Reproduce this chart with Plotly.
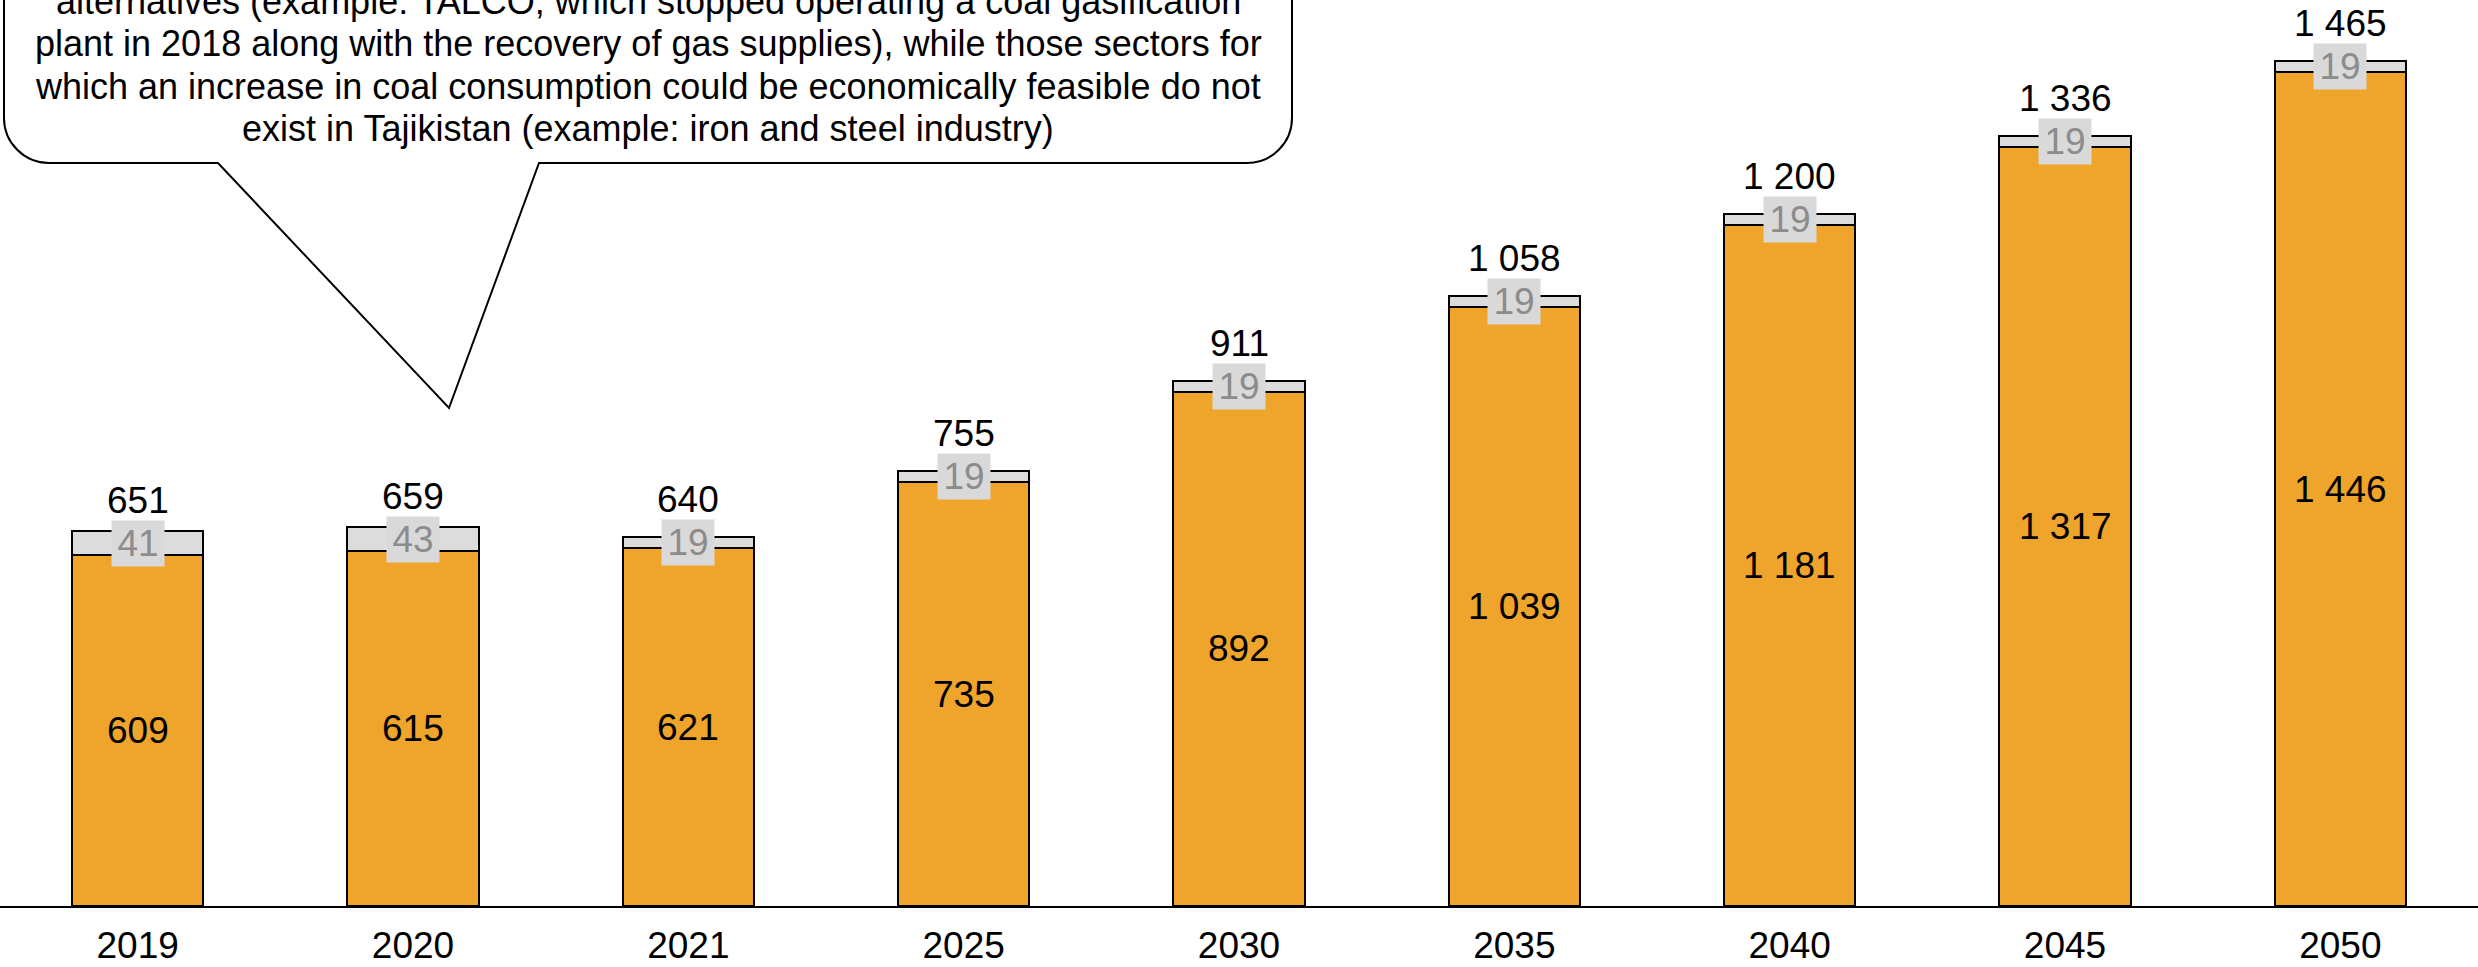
import plotly.graph_objects as go

# Coal consumption projection (thousand tonnes)
years = ["2019", "2020", "2021", "2025", "2030", "2035", "2040", "2045", "2050"]
base_use = [609, 615, 621, 735, 892, 1039, 1181, 1317, 1446]
other_use = [41, 43, 19, 19, 19, 19, 19, 19, 19]
totals = [651, 659, 640, 755, 911, 1058, 1200, 1336, 1465]

callout_lines = [
    "alternatives (example: TALCO, which stopped operating a coal gasification",
    "plant in 2018 along with the recovery of gas supplies), while those sectors for",
    "which an increase in coal consumption could be economically feasible do not",
    "exist in Tajikistan (example: iron and steel industry)",
]

W, H = 2478, 967
MARGIN_B = 61
PLOT_H = H - MARGIN_B
Y_MAX = 1571.6

FONT = "Liberation Sans, Arial, sans-serif"
NUM_SIZE = 37
ORANGE = "#EFA42B"
LIGHT = "#DCDCDC"


def fmt(v):
    return f"{v:,}".replace(",", " ")


fig = go.Figure()
fig.add_bar(
    x=years, y=base_use, name="base",
    marker=dict(color=ORANGE, line=dict(color="black", width=2)),
    hoverinfo="skip",
)
fig.add_bar(
    x=years, y=other_use, name="other",
    marker=dict(color=LIGHT, line=dict(color="black", width=2)),
    hoverinfo="skip",
)

annotations = []
# on a category axis annotations are placed by category index
for i, (b, o, t) in enumerate(zip(base_use, other_use, totals)):
    # value inside the orange segment
    annotations.append(dict(
        xref="x", yref="y", x=i, y=b / 2, text=fmt(b), showarrow=False,
        xanchor="center", yanchor="middle",
        font=dict(family=FONT, size=NUM_SIZE, color="black"),
    ))
    # boxed label on the thin top segment
    annotations.append(dict(
        xref="x", yref="y", x=i, y=b + o / 2, text=fmt(o), showarrow=False,
        xanchor="center", yanchor="middle",
        width=52, height=45, borderpad=0,
        bgcolor="#D9D9D9",
        font=dict(family=FONT, size=NUM_SIZE, color="#8C8C8C"),
    ))
    # total above the stack
    annotations.append(dict(
        xref="x", yref="y", x=i, y=b + o / 2, yshift=43, text=fmt(t),
        showarrow=False, xanchor="center", yanchor="middle",
        font=dict(family=FONT, size=NUM_SIZE, color="black"),
    ))


def px(xp):
    return xp / W


def py(yp):
    return (PLOT_H - yp) / PLOT_H


# speech-bubble callout (pixel geometry converted to paper units)
L, R, TOP, BOT, RAD = 4, 1292, -120, 163, 45
K = 0.552 * RAD
pts = [
    ("M", [(L, TOP)]),
    ("L", [(L, BOT - RAD)]),
    ("C", [(L, BOT - RAD + K), (L + RAD - K, BOT), (L + RAD, BOT)]),
    ("L", [(218, BOT)]),
    ("L", [(449, 408)]),
    ("L", [(539, BOT)]),
    ("L", [(R - RAD, BOT)]),
    ("C", [(R - RAD + K, BOT), (R, BOT - RAD + K), (R, BOT - RAD)]),
    ("L", [(R, TOP)]),
]
path = " ".join(
    cmd + " " + " ".join(f"{px(a):.6f},{py(b):.6f}" for a, b in coords)
    for cmd, coords in pts
) + " Z"

shapes = [dict(
    type="path", xref="paper", yref="paper", path=path,
    fillcolor="white", line=dict(color="black", width=2), layer="above",
)]

line_y = [1, 43, 86, 128]
for txt, yy in zip(callout_lines, line_y):
    annotations.append(dict(
        xref="paper", yref="paper", x=px(648), y=py(yy),
        text=txt, showarrow=False, xanchor="center", yanchor="middle",
        font=dict(family=FONT, size=36, color="black"),
    ))

fig.update_layout(
    width=W, height=H,
    margin=dict(l=0, r=0, t=0, b=MARGIN_B, pad=0),
    barmode="stack", bargap=0.523,
    showlegend=False,
    paper_bgcolor="white", plot_bgcolor="white",
    font=dict(family=FONT, size=NUM_SIZE, color="black"),
    annotations=annotations,
    shapes=shapes,
    xaxis=dict(
        type="category", range=[-0.5, 8.5],
        showline=True, linecolor="black", linewidth=2,
        showgrid=False, ticks="", ticklabelstandoff=6,
        tickfont=dict(family=FONT, size=NUM_SIZE, color="black"),
        fixedrange=True,
    ),
    yaxis=dict(range=[0, Y_MAX], visible=False, fixedrange=True),
)

fig.write_html("out.html", config={"displayModeBar": False})
